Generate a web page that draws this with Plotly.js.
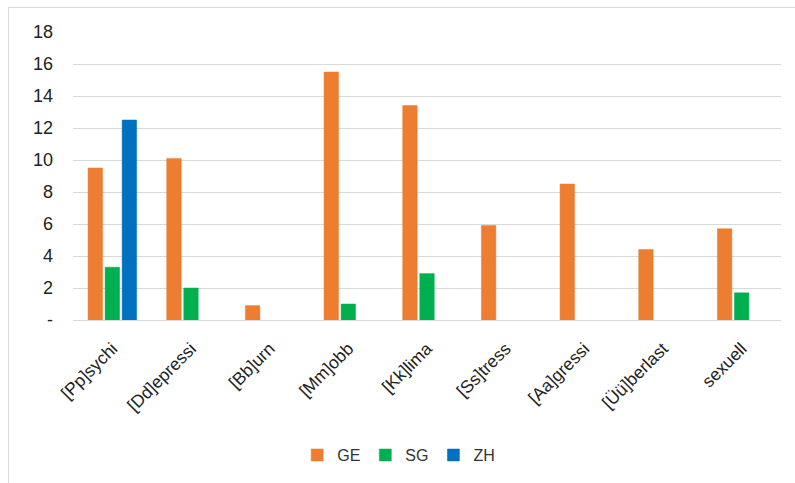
<!DOCTYPE html>
<html><head><meta charset="utf-8">
<script src="https://cdn.plot.ly/plotly-3.0.1.min.js"></script>
<style>
html,body{margin:0;padding:0;background:#fff;overflow:hidden;}
#frame{position:absolute;left:8px;top:7px;width:820px;height:520px;border:1px solid #d9d9d9;box-sizing:border-box;}
#chart{position:absolute;left:0;top:0;width:795px;height:483px;}
</style></head>
<body>
<div id="frame"></div>
<div id="chart"></div>
<script>
const categories = ["[Pp]sychi","[Dd]epressi","[Bb]urn","[Mm]obb","[Kk]lima","[Ss]tress","[Aa]gressi","[Üü]berlast","sexuell"];
const GE = [9.5, 10.1, 0.9, 15.5, 13.4, 5.9, 8.5, 4.4, 5.7];
const SG = [3.3, 2.0, null, 1.0, 2.9, null, null, null, 1.7];
const ZH = [12.5, null, null, null, null, null, null, null, null];
const yTickVals = [0,2,4,6,8,10,12,14,16,18];
const yTickText = ["-","2","4","6","8","10","12","14","16","18"];

const mk = (name, y, color) => ({
  type:'bar', name:name, x:categories, y:y,
  marker:{color:color, line:{color:color, width:0.5}}
});
const data = [
  mk('GE', GE, '#ed7d31'),
  mk('SG', SG, '#00b050'),
  mk('ZH', ZH, '#0070c0')
];
const layout = {
  width:795, height:483,
  paper_bgcolor:'rgba(0,0,0,0)', plot_bgcolor:'rgba(0,0,0,0)',
  margin:{l:73, r:14, t:32, b:162},
  barmode:'group', bargap:0.35, bargroupgap:0.15,
  font:{family:'Liberation Sans, Arial, sans-serif', color:'#222222'},
  xaxis:{type:'category', tickangle:-45, tickfont:{size:17.5, color:'#222222'},
         showgrid:false, showline:false, ticks:'', zeroline:false, ticklabelstandoff:14},
  yaxis:{range:[0,18], tickvals:yTickVals, ticktext:yTickText,
         tickfont:{size:18, color:'#222222'}, showgrid:true, gridcolor:'#d9d9d9', gridwidth:1,
         zeroline:true, zerolinecolor:'#d9d9d9', zerolinewidth:1, showline:false, ticks:'', ticklabelstandoff:19},
  showlegend:true,
  legend:{orientation:'h', x:0.46, xanchor:'center', y:-0.464, yanchor:'middle',
          font:{size:16, color:'#333333', family:'Liberation Sans Narrow, Liberation Sans, sans-serif'},
          itemwidth:30, traceorder:'normal'}
};
Plotly.newPlot('chart', data, layout, {displayModeBar:false, staticPlot:true});
</script>
</body></html>
